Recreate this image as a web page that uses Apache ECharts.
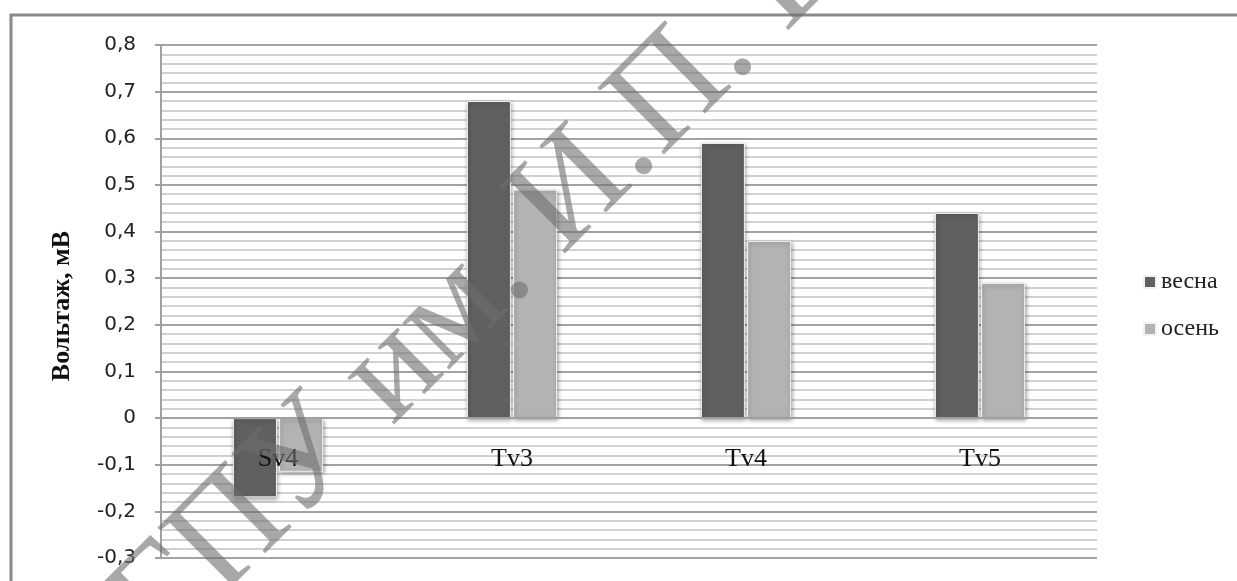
<!DOCTYPE html>
<html>
<head>
<meta charset="utf-8">
<script src="https://cdn.jsdelivr.net/npm/echarts@6/dist/echarts.min.js"></script>
<style>
  html, body { margin: 0; padding: 0; background: #ffffff; }
  #chart { width: 1237px; height: 581px; }
</style>
</head>
<body>
<div id="chart"></div>
<script>
// Sites and measured voltage per season
const categories = ['Sv4', 'Tv3', 'Tv4', 'Tv5'];
const springValues = [-0.17, 0.68, 0.59, 0.44];
const autumnValues = [-0.115, 0.49, 0.38, 0.29];
const seriesNames = ['весна', 'осень'];
const axisTitle = 'Вольтаж, мВ';
const stampText = 'МГПУ им. И.П. Шамякина';
const yMin = -0.3, yMax = 0.8, yStep = 0.1;

const chart = echarts.init(document.getElementById('chart'), null, { renderer: 'canvas' });

const gridBox = { left: 161, right: 140, top: 45, bottom: 23 };
const plotHeight = 581 - gridBox.top - gridBox.bottom;
// category axis sits on the zero line of the value axis
const zeroOffset = -((0 - yMin) / (yMax - yMin)) * plotHeight;

const barStyle = (color) => ({
  color: color,
  borderColor: '#f2f2f2',
  borderWidth: 1,
  shadowColor: 'rgba(0,0,0,0.35)',
  shadowBlur: 4,
  shadowOffsetX: 1,
  shadowOffsetY: 2
});

const option = {
  backgroundColor: '#ffffff',
  animation: false,
  grid: Object.assign({ outerBoundsMode: 'none', containLabel: false }, gridBox),
  legend: {
    orient: 'vertical',
    left: 1138,
    top: 265,
    itemWidth: 12,
    itemHeight: 12,
    itemGap: 23,
    icon: 'rect',
    textStyle: { fontFamily: 'Liberation Serif', fontSize: 24, color: '#222', lineHeight: 24 },
    data: seriesNames
  },
  xAxis: {
    type: 'category',
    data: categories,
    z: 5,
    offset: zeroOffset,
    axisLine: { show: true, onZero: false, lineStyle: { color: '#a0a0a0', width: 2 } },
    axisTick: { show: false },
    axisLabel: {
      margin: 28,
      fontFamily: 'Liberation Serif',
      fontSize: 26,
      lineHeight: 26,
      color: '#111'
    },
    splitLine: { show: false }
  },
  yAxis: {
    type: 'value',
    min: yMin,
    max: yMax,
    interval: yStep,
    axisLine: { show: true, lineStyle: { color: '#a0a0a0', width: 2 } },
    axisTick: { show: true, length: 6, lineStyle: { color: '#a0a0a0', width: 2 } },
    axisLabel: {
      margin: 25,
      fontFamily: 'DejaVu Sans',
      fontSize: 20,
      color: '#222',
      formatter: (v) => {
        const r = Math.round(v * 10) / 10;
        if (r === 0) return '0';
        return r.toFixed(1).replace('.', ',');
      }
    },
    splitLine: { show: true, lineStyle: { color: '#a3a3a3', width: 2 } },
    minorTick: { show: false, splitNumber: 5 },
    minorSplitLine: { show: true, lineStyle: { color: '#c2c2c2', width: 1.5 } }
  },
  series: [
    {
      name: seriesNames[0],
      type: 'bar',
      data: springValues,
      barWidth: 44,
      barGap: '5%',
      itemStyle: barStyle('#606060')
    },
    {
      name: seriesNames[1],
      type: 'bar',
      data: autumnValues,
      barWidth: 44,
      barGap: '5%',
      itemStyle: barStyle('#b3b3b3')
    }
  ],
  graphic: [
    {
      type: 'rect',
      z: 0,
      silent: true,
      shape: { x: 11, y: 15, width: 1250, height: 600 },
      style: { fill: 'none', stroke: '#8a8a8a', lineWidth: 3 }
    },
    {
      type: 'text',
      x: 62,
      y: 306,
      rotation: Math.PI / 2,
      silent: true,
      style: {
        text: axisTitle,
        font: 'bold 26px "Liberation Serif"',
        fill: '#111',
        align: 'center',
        verticalAlign: 'middle',
        textAlign: 'center',
        textVerticalAlign: 'middle'
      }
    },
    {
      type: 'text',
      x: 45,
      y: 720,
      rotation: Math.PI / 4,
      z: 100,
      silent: true,
      style: {
        text: stampText,
        font: '144px "Liberation Serif"',
        fill: 'rgba(110,110,110,0.6)',
        align: 'left',
        verticalAlign: 'middle',
        textAlign: 'left',
        textVerticalAlign: 'middle'
      }
    }
  ]
};

chart.setOption(option);
</script>
</body>
</html>
